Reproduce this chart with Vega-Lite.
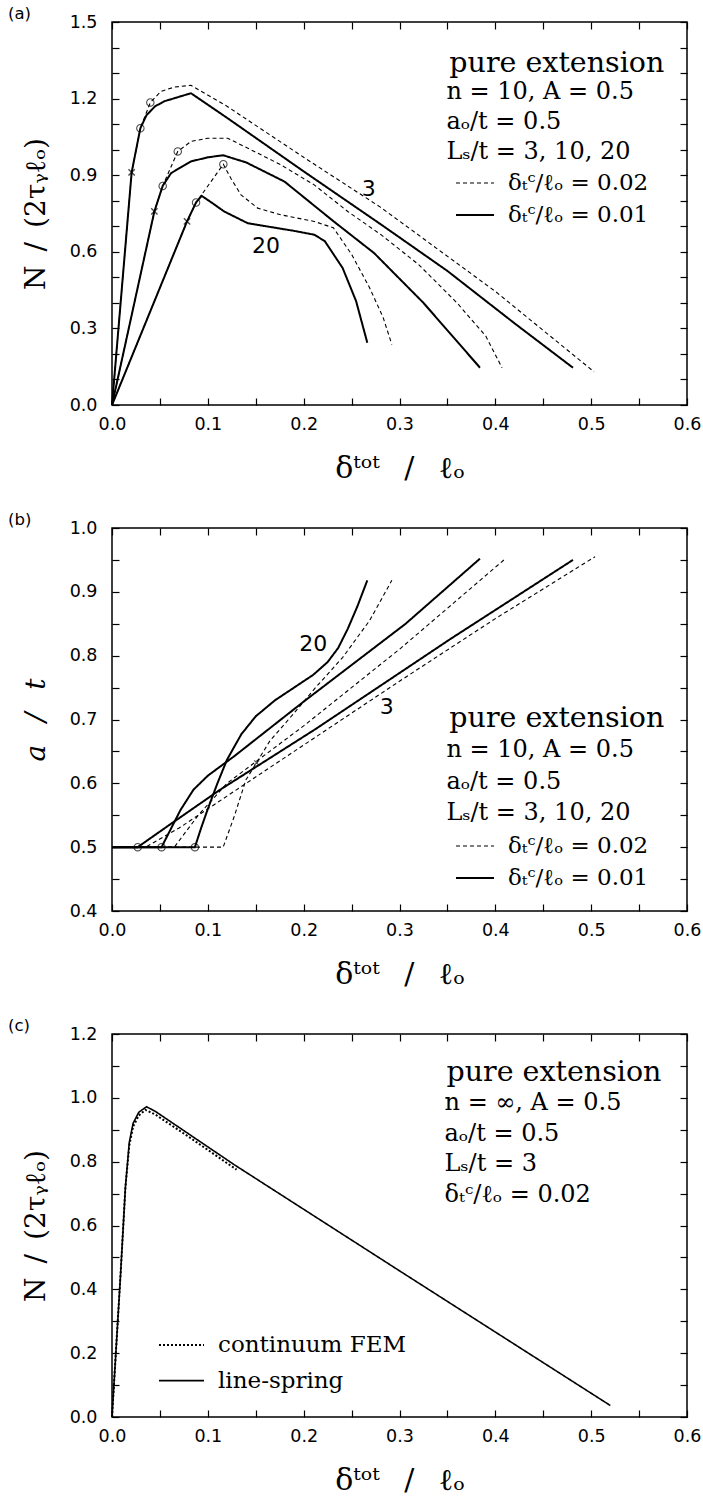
{
  "$schema": "https://vega.github.io/schema/vega-lite/v6.json",
  "background": "white",
  "padding": {"left": 7, "top": 4, "right": 4, "bottom": 0},
  "spacing": 26,
  "config": {
    "view": {"stroke": "black", "strokeWidth": 1.5},
    "font": "DejaVu Sans",
    "axis": {"grid": false, "domain": false, "tickColor": "black", "tickSize": -7, "tickWidth": 1.2, "labelFont": "DejaVu Sans", "labelFontSize": 17.5, "labelColor": "black", "labelOverlap": false, "labelFlush": false, "titleFont": "DejaVu Serif", "titleFontWeight": "normal", "titleColor": "black"},
    "axisX": {"labelPadding": 17, "titleFontSize": 30},
    "axisY": {"labelPadding": 22, "titleFontSize": 28},
    "legend": {"orient": "none", "title": null, "padding": 0, "labelFont": "DejaVu Serif", "labelFontSize": 23, "labelColor": "black", "labelLimit": 400, "symbolType": "stroke", "symbolStrokeColor": "black", "clipHeight": 22, "labelOffset": 13},
    "title": {"anchor": "start", "frame": "group", "font": "DejaVu Sans", "fontSize": 16.5, "fontWeight": "normal", "color": "black", "offset": -9}
  },
  "resolve": {"scale": {"strokeDash": "independent", "strokeWidth": "independent"}, "legend": {"strokeDash": "independent", "strokeWidth": "independent"}},
  "datasets": {
    "curves": [
      {"p": "a", "curve": "3s", "t": "δₜᶜ/ℓₒ = 0.01", "x": 0, "y": 0},
      {"p": "a", "curve": "3s", "t": "δₜᶜ/ℓₒ = 0.01", "x": 0.0205, "y": 0.911},
      {"p": "a", "curve": "3s", "t": "δₜᶜ/ℓₒ = 0.01", "x": 0.0296, "y": 1.084},
      {"p": "a", "curve": "3s", "t": "δₜᶜ/ℓₒ = 0.01", "x": 0.036, "y": 1.135},
      {"p": "a", "curve": "3s", "t": "δₜᶜ/ℓₒ = 0.01", "x": 0.045, "y": 1.17},
      {"p": "a", "curve": "3s", "t": "δₜᶜ/ℓₒ = 0.01", "x": 0.055, "y": 1.19},
      {"p": "a", "curve": "3s", "t": "δₜᶜ/ℓₒ = 0.01", "x": 0.07, "y": 1.207},
      {"p": "a", "curve": "3s", "t": "δₜᶜ/ℓₒ = 0.01", "x": 0.0824, "y": 1.221},
      {"p": "a", "curve": "3s", "t": "δₜᶜ/ℓₒ = 0.01", "x": 0.1207, "y": 1.123},
      {"p": "a", "curve": "3s", "t": "δₜᶜ/ℓₒ = 0.01", "x": 0.2, "y": 0.915},
      {"p": "a", "curve": "3s", "t": "δₜᶜ/ℓₒ = 0.01", "x": 0.2807, "y": 0.707},
      {"p": "a", "curve": "3s", "t": "δₜᶜ/ℓₒ = 0.01", "x": 0.35, "y": 0.525},
      {"p": "a", "curve": "3s", "t": "δₜᶜ/ℓₒ = 0.01", "x": 0.42, "y": 0.32},
      {"p": "a", "curve": "3s", "t": "δₜᶜ/ℓₒ = 0.01", "x": 0.481, "y": 0.146},
      {"p": "a", "curve": "3d", "t": "δₜᶜ/ℓₒ = 0.02", "x": 0, "y": 0},
      {"p": "a", "curve": "3d", "t": "δₜᶜ/ℓₒ = 0.02", "x": 0.0205, "y": 0.911},
      {"p": "a", "curve": "3d", "t": "δₜᶜ/ℓₒ = 0.02", "x": 0.0296, "y": 1.084},
      {"p": "a", "curve": "3d", "t": "δₜᶜ/ℓₒ = 0.02", "x": 0.04, "y": 1.185},
      {"p": "a", "curve": "3d", "t": "δₜᶜ/ℓₒ = 0.02", "x": 0.051, "y": 1.228},
      {"p": "a", "curve": "3d", "t": "δₜᶜ/ℓₒ = 0.02", "x": 0.065, "y": 1.245},
      {"p": "a", "curve": "3d", "t": "δₜᶜ/ℓₒ = 0.02", "x": 0.0824, "y": 1.252},
      {"p": "a", "curve": "3d", "t": "δₜᶜ/ℓₒ = 0.02", "x": 0.12, "y": 1.17},
      {"p": "a", "curve": "3d", "t": "δₜᶜ/ℓₒ = 0.02", "x": 0.2, "y": 0.97},
      {"p": "a", "curve": "3d", "t": "δₜᶜ/ℓₒ = 0.02", "x": 0.28, "y": 0.775},
      {"p": "a", "curve": "3d", "t": "δₜᶜ/ℓₒ = 0.02", "x": 0.4, "y": 0.445},
      {"p": "a", "curve": "3d", "t": "δₜᶜ/ℓₒ = 0.02", "x": 0.503, "y": 0.13},
      {"p": "a", "curve": "10s", "t": "δₜᶜ/ℓₒ = 0.01", "x": 0, "y": 0},
      {"p": "a", "curve": "10s", "t": "δₜᶜ/ℓₒ = 0.01", "x": 0.0442, "y": 0.758},
      {"p": "a", "curve": "10s", "t": "δₜᶜ/ℓₒ = 0.01", "x": 0.0529, "y": 0.858},
      {"p": "a", "curve": "10s", "t": "δₜᶜ/ℓₒ = 0.01", "x": 0.0616, "y": 0.908},
      {"p": "a", "curve": "10s", "t": "δₜᶜ/ℓₒ = 0.01", "x": 0.0824, "y": 0.954},
      {"p": "a", "curve": "10s", "t": "δₜᶜ/ℓₒ = 0.01", "x": 0.1, "y": 0.97},
      {"p": "a", "curve": "10s", "t": "δₜᶜ/ℓₒ = 0.01", "x": 0.116, "y": 0.978},
      {"p": "a", "curve": "10s", "t": "δₜᶜ/ℓₒ = 0.01", "x": 0.14, "y": 0.95},
      {"p": "a", "curve": "10s", "t": "δₜᶜ/ℓₒ = 0.01", "x": 0.18, "y": 0.875},
      {"p": "a", "curve": "10s", "t": "δₜᶜ/ℓₒ = 0.01", "x": 0.231, "y": 0.72},
      {"p": "a", "curve": "10s", "t": "δₜᶜ/ℓₒ = 0.01", "x": 0.2735, "y": 0.595},
      {"p": "a", "curve": "10s", "t": "δₜᶜ/ℓₒ = 0.01", "x": 0.325, "y": 0.4},
      {"p": "a", "curve": "10s", "t": "δₜᶜ/ℓₒ = 0.01", "x": 0.384, "y": 0.146},
      {"p": "a", "curve": "10d", "t": "δₜᶜ/ℓₒ = 0.02", "x": 0, "y": 0},
      {"p": "a", "curve": "10d", "t": "δₜᶜ/ℓₒ = 0.02", "x": 0.0442, "y": 0.758},
      {"p": "a", "curve": "10d", "t": "δₜᶜ/ℓₒ = 0.02", "x": 0.0529, "y": 0.858},
      {"p": "a", "curve": "10d", "t": "δₜᶜ/ℓₒ = 0.02", "x": 0.0686, "y": 0.993},
      {"p": "a", "curve": "10d", "t": "δₜᶜ/ℓₒ = 0.02", "x": 0.0824, "y": 1.032},
      {"p": "a", "curve": "10d", "t": "δₜᶜ/ℓₒ = 0.02", "x": 0.1, "y": 1.045},
      {"p": "a", "curve": "10d", "t": "δₜᶜ/ℓₒ = 0.02", "x": 0.1207, "y": 1.045},
      {"p": "a", "curve": "10d", "t": "δₜᶜ/ℓₒ = 0.02", "x": 0.1485, "y": 0.993},
      {"p": "a", "curve": "10d", "t": "δₜᶜ/ℓₒ = 0.02", "x": 0.176, "y": 0.941},
      {"p": "a", "curve": "10d", "t": "δₜᶜ/ℓₒ = 0.02", "x": 0.211, "y": 0.862},
      {"p": "a", "curve": "10d", "t": "δₜᶜ/ℓₒ = 0.02", "x": 0.246, "y": 0.758},
      {"p": "a", "curve": "10d", "t": "δₜᶜ/ℓₒ = 0.02", "x": 0.2807, "y": 0.667},
      {"p": "a", "curve": "10d", "t": "δₜᶜ/ℓₒ = 0.02", "x": 0.32, "y": 0.55},
      {"p": "a", "curve": "10d", "t": "δₜᶜ/ℓₒ = 0.02", "x": 0.36, "y": 0.4},
      {"p": "a", "curve": "10d", "t": "δₜᶜ/ℓₒ = 0.02", "x": 0.39, "y": 0.27},
      {"p": "a", "curve": "10d", "t": "δₜᶜ/ℓₒ = 0.02", "x": 0.407, "y": 0.146},
      {"p": "a", "curve": "20s", "t": "δₜᶜ/ℓₒ = 0.01", "x": 0, "y": 0},
      {"p": "a", "curve": "20s", "t": "δₜᶜ/ℓₒ = 0.01", "x": 0.0783, "y": 0.719},
      {"p": "a", "curve": "20s", "t": "δₜᶜ/ℓₒ = 0.01", "x": 0.0877, "y": 0.793},
      {"p": "a", "curve": "20s", "t": "δₜᶜ/ℓₒ = 0.01", "x": 0.0936, "y": 0.819},
      {"p": "a", "curve": "20s", "t": "δₜᶜ/ℓₒ = 0.01", "x": 0.105, "y": 0.79},
      {"p": "a", "curve": "20s", "t": "δₜᶜ/ℓₒ = 0.01", "x": 0.117, "y": 0.758},
      {"p": "a", "curve": "20s", "t": "δₜᶜ/ℓₒ = 0.01", "x": 0.1416, "y": 0.712},
      {"p": "a", "curve": "20s", "t": "δₜᶜ/ℓₒ = 0.01", "x": 0.1624, "y": 0.699},
      {"p": "a", "curve": "20s", "t": "δₜᶜ/ℓₒ = 0.01", "x": 0.19, "y": 0.682},
      {"p": "a", "curve": "20s", "t": "δₜᶜ/ℓₒ = 0.01", "x": 0.211, "y": 0.667},
      {"p": "a", "curve": "20s", "t": "δₜᶜ/ℓₒ = 0.01", "x": 0.222, "y": 0.642},
      {"p": "a", "curve": "20s", "t": "δₜᶜ/ℓₒ = 0.01", "x": 0.2406, "y": 0.537},
      {"p": "a", "curve": "20s", "t": "δₜᶜ/ℓₒ = 0.01", "x": 0.2547, "y": 0.407},
      {"p": "a", "curve": "20s", "t": "δₜᶜ/ℓₒ = 0.01", "x": 0.2664, "y": 0.244},
      {"p": "a", "curve": "20d", "t": "δₜᶜ/ℓₒ = 0.02", "x": 0, "y": 0},
      {"p": "a", "curve": "20d", "t": "δₜᶜ/ℓₒ = 0.02", "x": 0.0783, "y": 0.719},
      {"p": "a", "curve": "20d", "t": "δₜᶜ/ℓₒ = 0.02", "x": 0.0877, "y": 0.793},
      {"p": "a", "curve": "20d", "t": "δₜᶜ/ℓₒ = 0.02", "x": 0.1162, "y": 0.943},
      {"p": "a", "curve": "20d", "t": "δₜᶜ/ℓₒ = 0.02", "x": 0.124, "y": 0.888},
      {"p": "a", "curve": "20d", "t": "δₜᶜ/ℓₒ = 0.02", "x": 0.1346, "y": 0.823},
      {"p": "a", "curve": "20d", "t": "δₜᶜ/ℓₒ = 0.02", "x": 0.152, "y": 0.771},
      {"p": "a", "curve": "20d", "t": "δₜᶜ/ℓₒ = 0.02", "x": 0.176, "y": 0.745},
      {"p": "a", "curve": "20d", "t": "δₜᶜ/ℓₒ = 0.02", "x": 0.211, "y": 0.719},
      {"p": "a", "curve": "20d", "t": "δₜᶜ/ℓₒ = 0.02", "x": 0.231, "y": 0.694},
      {"p": "a", "curve": "20d", "t": "δₜᶜ/ℓₒ = 0.02", "x": 0.25, "y": 0.59},
      {"p": "a", "curve": "20d", "t": "δₜᶜ/ℓₒ = 0.02", "x": 0.2688, "y": 0.459},
      {"p": "a", "curve": "20d", "t": "δₜᶜ/ℓₒ = 0.02", "x": 0.283, "y": 0.342},
      {"p": "a", "curve": "20d", "t": "δₜᶜ/ℓₒ = 0.02", "x": 0.292, "y": 0.237},

      {"p": "b", "curve": "3s", "t": "δₜᶜ/ℓₒ = 0.01", "x": 0, "y": 0.5},
      {"p": "b", "curve": "3s", "t": "δₜᶜ/ℓₒ = 0.01", "x": 0.0268, "y": 0.5},
      {"p": "b", "curve": "3s", "t": "δₜᶜ/ℓₒ = 0.01", "x": 0.06, "y": 0.535},
      {"p": "b", "curve": "3s", "t": "δₜᶜ/ℓₒ = 0.01", "x": 0.1128, "y": 0.59},
      {"p": "b", "curve": "3s", "t": "δₜᶜ/ℓₒ = 0.01", "x": 0.2124, "y": 0.685},
      {"p": "b", "curve": "3s", "t": "δₜᶜ/ℓₒ = 0.01", "x": 0.353, "y": 0.826},
      {"p": "b", "curve": "3s", "t": "δₜᶜ/ℓₒ = 0.01", "x": 0.481, "y": 0.95},
      {"p": "b", "curve": "3d", "t": "δₜᶜ/ℓₒ = 0.02", "x": 0, "y": 0.5},
      {"p": "b", "curve": "3d", "t": "δₜᶜ/ℓₒ = 0.02", "x": 0.035, "y": 0.5},
      {"p": "b", "curve": "3d", "t": "δₜᶜ/ℓₒ = 0.02", "x": 0.07, "y": 0.53},
      {"p": "b", "curve": "3d", "t": "δₜᶜ/ℓₒ = 0.02", "x": 0.12, "y": 0.58},
      {"p": "b", "curve": "3d", "t": "δₜᶜ/ℓₒ = 0.02", "x": 0.2, "y": 0.66},
      {"p": "b", "curve": "3d", "t": "δₜᶜ/ℓₒ = 0.02", "x": 0.3, "y": 0.76},
      {"p": "b", "curve": "3d", "t": "δₜᶜ/ℓₒ = 0.02", "x": 0.4, "y": 0.858},
      {"p": "b", "curve": "3d", "t": "δₜᶜ/ℓₒ = 0.02", "x": 0.504, "y": 0.955},
      {"p": "b", "curve": "10s", "t": "δₜᶜ/ℓₒ = 0.01", "x": 0, "y": 0.5},
      {"p": "b", "curve": "10s", "t": "δₜᶜ/ℓₒ = 0.01", "x": 0.0517, "y": 0.5},
      {"p": "b", "curve": "10s", "t": "δₜᶜ/ℓₒ = 0.01", "x": 0.0714, "y": 0.558},
      {"p": "b", "curve": "10s", "t": "δₜᶜ/ℓₒ = 0.01", "x": 0.085, "y": 0.59},
      {"p": "b", "curve": "10s", "t": "δₜᶜ/ℓₒ = 0.01", "x": 0.1, "y": 0.612},
      {"p": "b", "curve": "10s", "t": "δₜᶜ/ℓₒ = 0.01", "x": 0.128, "y": 0.643},
      {"p": "b", "curve": "10s", "t": "δₜᶜ/ℓₒ = 0.01", "x": 0.2, "y": 0.728},
      {"p": "b", "curve": "10s", "t": "δₜᶜ/ℓₒ = 0.01", "x": 0.3064, "y": 0.85},
      {"p": "b", "curve": "10s", "t": "δₜᶜ/ℓₒ = 0.01", "x": 0.384, "y": 0.952},
      {"p": "b", "curve": "10d", "t": "δₜᶜ/ℓₒ = 0.02", "x": 0, "y": 0.5},
      {"p": "b", "curve": "10d", "t": "δₜᶜ/ℓₒ = 0.02", "x": 0.065, "y": 0.5},
      {"p": "b", "curve": "10d", "t": "δₜᶜ/ℓₒ = 0.02", "x": 0.09, "y": 0.55},
      {"p": "b", "curve": "10d", "t": "δₜᶜ/ℓₒ = 0.02", "x": 0.12, "y": 0.6},
      {"p": "b", "curve": "10d", "t": "δₜᶜ/ℓₒ = 0.02", "x": 0.16, "y": 0.645},
      {"p": "b", "curve": "10d", "t": "δₜᶜ/ℓₒ = 0.02", "x": 0.2, "y": 0.69},
      {"p": "b", "curve": "10d", "t": "δₜᶜ/ℓₒ = 0.02", "x": 0.3, "y": 0.81},
      {"p": "b", "curve": "10d", "t": "δₜᶜ/ℓₒ = 0.02", "x": 0.409, "y": 0.95},
      {"p": "b", "curve": "20s", "t": "δₜᶜ/ℓₒ = 0.01", "x": 0, "y": 0.5},
      {"p": "b", "curve": "20s", "t": "δₜᶜ/ℓₒ = 0.01", "x": 0.0865, "y": 0.5},
      {"p": "b", "curve": "20s", "t": "δₜᶜ/ℓₒ = 0.01", "x": 0.093, "y": 0.53},
      {"p": "b", "curve": "20s", "t": "δₜᶜ/ℓₒ = 0.01", "x": 0.1, "y": 0.56},
      {"p": "b", "curve": "20s", "t": "δₜᶜ/ℓₒ = 0.01", "x": 0.11, "y": 0.6},
      {"p": "b", "curve": "20s", "t": "δₜᶜ/ℓₒ = 0.01", "x": 0.12, "y": 0.637},
      {"p": "b", "curve": "20s", "t": "δₜᶜ/ℓₒ = 0.01", "x": 0.135, "y": 0.677},
      {"p": "b", "curve": "20s", "t": "δₜᶜ/ℓₒ = 0.01", "x": 0.15, "y": 0.705},
      {"p": "b", "curve": "20s", "t": "δₜᶜ/ℓₒ = 0.01", "x": 0.17, "y": 0.73},
      {"p": "b", "curve": "20s", "t": "δₜᶜ/ℓₒ = 0.01", "x": 0.19, "y": 0.75},
      {"p": "b", "curve": "20s", "t": "δₜᶜ/ℓₒ = 0.01", "x": 0.21, "y": 0.77},
      {"p": "b", "curve": "20s", "t": "δₜᶜ/ℓₒ = 0.01", "x": 0.225, "y": 0.79},
      {"p": "b", "curve": "20s", "t": "δₜᶜ/ℓₒ = 0.01", "x": 0.236, "y": 0.812},
      {"p": "b", "curve": "20s", "t": "δₜᶜ/ℓₒ = 0.01", "x": 0.246, "y": 0.842},
      {"p": "b", "curve": "20s", "t": "δₜᶜ/ℓₒ = 0.01", "x": 0.256, "y": 0.877},
      {"p": "b", "curve": "20s", "t": "δₜᶜ/ℓₒ = 0.01", "x": 0.2664, "y": 0.918},
      {"p": "b", "curve": "20d", "t": "δₜᶜ/ℓₒ = 0.02", "x": 0, "y": 0.5},
      {"p": "b", "curve": "20d", "t": "δₜᶜ/ℓₒ = 0.02", "x": 0.116, "y": 0.5},
      {"p": "b", "curve": "20d", "t": "δₜᶜ/ℓₒ = 0.02", "x": 0.128, "y": 0.55},
      {"p": "b", "curve": "20d", "t": "δₜᶜ/ℓₒ = 0.02", "x": 0.1396, "y": 0.605},
      {"p": "b", "curve": "20d", "t": "δₜᶜ/ℓₒ = 0.02", "x": 0.165, "y": 0.667},
      {"p": "b", "curve": "20d", "t": "δₜᶜ/ℓₒ = 0.02", "x": 0.19, "y": 0.71},
      {"p": "b", "curve": "20d", "t": "δₜᶜ/ℓₒ = 0.02", "x": 0.2124, "y": 0.75},
      {"p": "b", "curve": "20d", "t": "δₜᶜ/ℓₒ = 0.02", "x": 0.2406, "y": 0.797},
      {"p": "b", "curve": "20d", "t": "δₜᶜ/ℓₒ = 0.02", "x": 0.2688, "y": 0.855},
      {"p": "b", "curve": "20d", "t": "δₜᶜ/ℓₒ = 0.02", "x": 0.292, "y": 0.918},

      {"p": "c", "curve": "ls", "t": "line-spring", "x": 0, "y": 0},
      {"p": "c", "curve": "ls", "t": "line-spring", "x": 0.004, "y": 0.2},
      {"p": "c", "curve": "ls", "t": "line-spring", "x": 0.009, "y": 0.45},
      {"p": "c", "curve": "ls", "t": "line-spring", "x": 0.014, "y": 0.72},
      {"p": "c", "curve": "ls", "t": "line-spring", "x": 0.018, "y": 0.86},
      {"p": "c", "curve": "ls", "t": "line-spring", "x": 0.022, "y": 0.92},
      {"p": "c", "curve": "ls", "t": "line-spring", "x": 0.028, "y": 0.955},
      {"p": "c", "curve": "ls", "t": "line-spring", "x": 0.036, "y": 0.972},
      {"p": "c", "curve": "ls", "t": "line-spring", "x": 0.045, "y": 0.958},
      {"p": "c", "curve": "ls", "t": "line-spring", "x": 0.1278, "y": 0.79},
      {"p": "c", "curve": "ls", "t": "line-spring", "x": 0.3, "y": 0.458},
      {"p": "c", "curve": "ls", "t": "line-spring", "x": 0.52, "y": 0.036},
      {"p": "c", "curve": "fem", "t": "continuum FEM", "x": 0, "y": 0},
      {"p": "c", "curve": "fem", "t": "continuum FEM", "x": 0.004, "y": 0.2},
      {"p": "c", "curve": "fem", "t": "continuum FEM", "x": 0.009, "y": 0.45},
      {"p": "c", "curve": "fem", "t": "continuum FEM", "x": 0.014, "y": 0.72},
      {"p": "c", "curve": "fem", "t": "continuum FEM", "x": 0.018, "y": 0.85},
      {"p": "c", "curve": "fem", "t": "continuum FEM", "x": 0.022, "y": 0.91},
      {"p": "c", "curve": "fem", "t": "continuum FEM", "x": 0.028, "y": 0.945},
      {"p": "c", "curve": "fem", "t": "continuum FEM", "x": 0.035, "y": 0.962},
      {"p": "c", "curve": "fem", "t": "continuum FEM", "x": 0.045, "y": 0.948},
      {"p": "c", "curve": "fem", "t": "continuum FEM", "x": 0.08, "y": 0.878},
      {"p": "c", "curve": "fem", "t": "continuum FEM", "x": 0.13, "y": 0.775}
    ],
    "markers": [
      {"p": "a", "m": "x", "x": 0.0205, "y": 0.911},
      {"p": "a", "m": "x", "x": 0.0442, "y": 0.758},
      {"p": "a", "m": "x", "x": 0.0783, "y": 0.719},
      {"p": "a", "m": "o", "x": 0.0296, "y": 1.084},
      {"p": "a", "m": "o", "x": 0.04, "y": 1.185},
      {"p": "a", "m": "o", "x": 0.0529, "y": 0.858},
      {"p": "a", "m": "o", "x": 0.0686, "y": 0.993},
      {"p": "a", "m": "o", "x": 0.0877, "y": 0.793},
      {"p": "a", "m": "o", "x": 0.1162, "y": 0.943},
      {"p": "b", "m": "o", "x": 0.0268, "y": 0.5},
      {"p": "b", "m": "o", "x": 0.0517, "y": 0.5},
      {"p": "b", "m": "o", "x": 0.0865, "y": 0.5},
      {"p": "b", "m": "x", "x": 0.151, "y": 0.632}
    ],
    "notes": [
      {"p": "a", "k": "head", "x": 0.352, "y": 1.339, "text": "pure extension"},
      {"p": "a", "k": "line", "x": 0.349, "y": 1.225, "text": "n = 10, A = 0.5"},
      {"p": "a", "k": "line", "x": 0.349, "y": 1.11, "text": "aₒ/t = 0.5"},
      {"p": "a", "k": "line", "x": 0.349, "y": 0.99, "text": "Lₛ/t = 3, 10, 20"},
      {"p": "b", "k": "head", "x": 0.352, "y": 0.7016, "text": "pure extension"},
      {"p": "b", "k": "line", "x": 0.349, "y": 0.652, "text": "n = 10, A = 0.5"},
      {"p": "b", "k": "line", "x": 0.349, "y": 0.602, "text": "aₒ/t = 0.5"},
      {"p": "b", "k": "line", "x": 0.349, "y": 0.553, "text": "Lₛ/t = 3, 10, 20"},
      {"p": "c", "k": "head", "x": 0.349, "y": 1.08, "text": "pure extension"},
      {"p": "c", "k": "line", "x": 0.347, "y": 0.984, "text": "n = ∞, A = 0.5"},
      {"p": "c", "k": "line", "x": 0.347, "y": 0.886, "text": "aₒ/t = 0.5"},
      {"p": "c", "k": "line", "x": 0.347, "y": 0.792, "text": "Lₛ/t = 3"},
      {"p": "c", "k": "line", "x": 0.347, "y": 0.696, "text": "δₜᶜ/ℓₒ = 0.02"}
    ],
    "curveLabels": [
      {"p": "a", "x": 0.268, "y": 0.844, "text": "3"},
      {"p": "a", "x": 0.1607, "y": 0.622, "text": "20"},
      {"p": "b", "x": 0.21, "y": 0.818, "text": "20"},
      {"p": "b", "x": 0.2866, "y": 0.719, "text": "3"}
    ]
  },
  "vconcat": [
    {
      "width": 575, "height": 383,
      "title": {"text": "(a)", "dx": -104},
      "resolve": {"axis": {"x": "independent", "y": "independent"}},
      "layer": [
        {
          "data": {"name": "curves"},
          "transform": [{"filter": "datum.p == 'a'"}],
          "mark": {"type": "line", "color": "black", "strokeCap": "butt"},
          "encoding": {
            "x": {"field": "x", "type": "quantitative", "scale": {"domain": [0, 0.6], "nice": false, "zero": false},
                  "axis": {"orient": "bottom", "values": [0, 0.05, 0.1, 0.15, 0.2, 0.25, 0.3, 0.35, 0.4, 0.45, 0.5, 0.55, 0.6], "labelExpr": "round(datum.value*100) % 10 == 0 ? format(datum.value, '.1f') : ''", "title": "δᵗᵒᵗ \u2002/ \u2002ℓₒ", "titleX": 287.5, "titleY": 72, "titleBaseline": "alphabetic"}},
            "y": {"field": "y", "type": "quantitative", "scale": {"domain": [0, 1.5], "nice": false, "zero": false},
                  "axis": {"orient": "left", "values": [0, 0.1, 0.2, 0.3, 0.4, 0.5, 0.6, 0.7, 0.8, 0.9, 1.0, 1.1, 1.2, 1.3, 1.4, 1.5], "labelExpr": "round(datum.value*10) % 3 == 0 ? format(datum.value, '.1f') : ''", "title": "N\u2002/\u2002(2τᵧℓₒ)", "titleX": -76, "titleY": 191.5, "titleBaseline": "middle", "titleAngle": -90}},
            "detail": {"field": "curve"},
            "strokeDash": {"field": "t", "type": "nominal", "scale": {"domain": ["δₜᶜ/ℓₒ = 0.02", "δₜᶜ/ℓₒ = 0.01"], "range": [[4, 3], [1, 0]]},
                           "legend": {"legendX": 343, "legendY": 150, "symbolSize": 1444, "rowPadding": 9}},
            "strokeWidth": {"field": "t", "type": "nominal", "scale": {"domain": ["δₜᶜ/ℓₒ = 0.02", "δₜᶜ/ℓₒ = 0.01"], "range": [1.1, 2]},
                            "legend": {"legendX": 343, "legendY": 150, "symbolSize": 1444, "rowPadding": 9}}
          }
        },
        {
          "data": {"name": "markers"},
          "transform": [{"filter": "datum.p == 'a' && datum.m == 'o'"}],
          "mark": {"type": "point", "shape": "circle", "filled": false, "color": "black", "strokeWidth": 1.1, "size": 55},
          "encoding": {
            "x": {"field": "x", "type": "quantitative", "axis": null},
            "y": {"field": "y", "type": "quantitative", "axis": null}
          }
        },
        {
          "data": {"name": "markers"},
          "transform": [{"filter": "datum.p == 'a' && datum.m == 'x'"}],
          "mark": {"type": "point", "shape": "M-1,-1L1,1M-1,1L1,-1", "filled": false, "color": "black", "strokeWidth": 1.4, "size": 40},
          "encoding": {
            "x": {"field": "x", "type": "quantitative", "axis": null},
            "y": {"field": "y", "type": "quantitative", "axis": null}
          }
        },
        {
          "data": {"name": "curveLabels"},
          "transform": [{"filter": "datum.p == 'a'"}],
          "mark": {"type": "text", "font": "DejaVu Sans", "fontSize": 22, "align": "center", "baseline": "middle", "color": "black"},
          "encoding": {
            "x": {"field": "x", "type": "quantitative", "axis": null},
            "y": {"field": "y", "type": "quantitative", "axis": null},
            "text": {"field": "text"}
          }
        },
        {
          "data": {"name": "notes"},
          "transform": [{"filter": "datum.p == 'a'"}],
          "mark": {"type": "text", "font": "DejaVu Serif", "align": "left", "baseline": "middle", "color": "black"},
          "encoding": {
            "x": {"field": "x", "type": "quantitative",
                  "axis": {"orient": "top", "values": [0, 0.05, 0.1, 0.15, 0.2, 0.25, 0.3, 0.35, 0.4, 0.45, 0.5, 0.55, 0.6], "labels": false, "title": null}},
            "y": {"field": "y", "type": "quantitative",
                  "axis": {"orient": "right", "values": [0, 0.1, 0.2, 0.3, 0.4, 0.5, 0.6, 0.7, 0.8, 0.9, 1.0, 1.1, 1.2, 1.3, 1.4, 1.5], "labels": false, "title": null}},
            "text": {"field": "text"},
            "size": {"field": "k", "type": "nominal", "scale": {"domain": ["head", "line"], "range": [28.5, 24]}, "legend": null}
          }
        }
      ]
    },
    {
      "width": 575, "height": 383,
      "title": {"text": "(b)", "dx": -104},
      "resolve": {"axis": {"x": "independent", "y": "independent"}},
      "layer": [
        {
          "data": {"name": "curves"},
          "transform": [{"filter": "datum.p == 'b'"}],
          "mark": {"type": "line", "color": "black", "strokeCap": "butt"},
          "encoding": {
            "x": {"field": "x", "type": "quantitative", "scale": {"domain": [0, 0.6], "nice": false, "zero": false},
                  "axis": {"orient": "bottom", "values": [0, 0.05, 0.1, 0.15, 0.2, 0.25, 0.3, 0.35, 0.4, 0.45, 0.5, 0.55, 0.6], "labelExpr": "round(datum.value*100) % 10 == 0 ? format(datum.value, '.1f') : ''", "title": "δᵗᵒᵗ \u2002/ \u2002ℓₒ", "titleX": 287.5, "titleY": 72, "titleBaseline": "alphabetic"}},
            "y": {"field": "y", "type": "quantitative", "scale": {"domain": [0.4, 1.0], "nice": false, "zero": false},
                  "axis": {"orient": "left", "values": [0.4, 0.45, 0.5, 0.55, 0.6, 0.65, 0.7, 0.75, 0.8, 0.85, 0.9, 0.95, 1.0], "labelExpr": "round(datum.value*100) % 10 == 0 ? format(datum.value, '.1f') : ''", "title": "a \u2002/ \u2002t", "titleFontStyle": "italic", "titleX": -76, "titleY": 191.5, "titleBaseline": "middle", "titleAngle": -90}},
            "detail": {"field": "curve"},
            "strokeDash": {"field": "t", "type": "nominal", "scale": {"domain": ["δₜᶜ/ℓₒ = 0.02", "δₜᶜ/ℓₒ = 0.01"], "range": [[4, 3], [1, 0]]},
                           "legend": {"legendX": 343, "legendY": 307, "symbolSize": 1444, "rowPadding": 9}},
            "strokeWidth": {"field": "t", "type": "nominal", "scale": {"domain": ["δₜᶜ/ℓₒ = 0.02", "δₜᶜ/ℓₒ = 0.01"], "range": [1.1, 2]},
                            "legend": {"legendX": 343, "legendY": 307, "symbolSize": 1444, "rowPadding": 9}}
          }
        },
        {
          "data": {"name": "markers"},
          "transform": [{"filter": "datum.p == 'b' && datum.m == 'o'"}],
          "mark": {"type": "point", "shape": "circle", "filled": false, "color": "black", "strokeWidth": 1.1, "size": 55},
          "encoding": {
            "x": {"field": "x", "type": "quantitative", "axis": null},
            "y": {"field": "y", "type": "quantitative", "axis": null}
          }
        },
        {
          "data": {"name": "markers"},
          "transform": [{"filter": "datum.p == 'b' && datum.m == 'x'"}],
          "mark": {"type": "point", "shape": "M-1,-1L1,1M-1,1L1,-1", "filled": false, "color": "black", "strokeWidth": 1.2, "size": 25},
          "encoding": {
            "x": {"field": "x", "type": "quantitative", "axis": null},
            "y": {"field": "y", "type": "quantitative", "axis": null}
          }
        },
        {
          "data": {"name": "curveLabels"},
          "transform": [{"filter": "datum.p == 'b'"}],
          "mark": {"type": "text", "font": "DejaVu Sans", "fontSize": 22, "align": "center", "baseline": "middle", "color": "black"},
          "encoding": {
            "x": {"field": "x", "type": "quantitative", "axis": null},
            "y": {"field": "y", "type": "quantitative", "axis": null},
            "text": {"field": "text"}
          }
        },
        {
          "data": {"name": "notes"},
          "transform": [{"filter": "datum.p == 'b'"}],
          "mark": {"type": "text", "font": "DejaVu Serif", "align": "left", "baseline": "middle", "color": "black"},
          "encoding": {
            "x": {"field": "x", "type": "quantitative",
                  "axis": {"orient": "top", "values": [0, 0.05, 0.1, 0.15, 0.2, 0.25, 0.3, 0.35, 0.4, 0.45, 0.5, 0.55, 0.6], "labels": false, "title": null}},
            "y": {"field": "y", "type": "quantitative",
                  "axis": {"orient": "right", "values": [0.4, 0.45, 0.5, 0.55, 0.6, 0.65, 0.7, 0.75, 0.8, 0.85, 0.9, 0.95, 1.0], "labels": false, "title": null}},
            "text": {"field": "text"},
            "size": {"field": "k", "type": "nominal", "scale": {"domain": ["head", "line"], "range": [28.5, 24]}, "legend": null}
          }
        }
      ]
    },
    {
      "width": 575, "height": 383,
      "title": {"text": "(c)", "dx": -104},
      "resolve": {"axis": {"x": "independent", "y": "independent"}},
      "layer": [
        {
          "data": {"name": "curves"},
          "transform": [{"filter": "datum.p == 'c'"}],
          "mark": {"type": "line", "color": "black", "strokeCap": "butt"},
          "encoding": {
            "x": {"field": "x", "type": "quantitative", "scale": {"domain": [0, 0.6], "nice": false, "zero": false},
                  "axis": {"orient": "bottom", "values": [0, 0.05, 0.1, 0.15, 0.2, 0.25, 0.3, 0.35, 0.4, 0.45, 0.5, 0.55, 0.6], "labelExpr": "round(datum.value*100) % 10 == 0 ? format(datum.value, '.1f') : ''", "title": "δᵗᵒᵗ \u2002/ \u2002ℓₒ", "titleX": 287.5, "titleY": 72, "titleBaseline": "alphabetic"}},
            "y": {"field": "y", "type": "quantitative", "scale": {"domain": [0, 1.2], "nice": false, "zero": false},
                  "axis": {"orient": "left", "values": [0, 0.1, 0.2, 0.3, 0.4, 0.5, 0.6, 0.7, 0.8, 0.9, 1.0, 1.1, 1.2], "labelExpr": "round(datum.value*10) % 2 == 0 ? format(datum.value, '.1f') : ''", "title": "N\u2002/\u2002(2τᵧℓₒ)", "titleX": -76, "titleY": 191.5, "titleBaseline": "middle", "titleAngle": -90}},
            "detail": {"field": "curve"},
            "strokeDash": {"field": "t", "type": "nominal", "scale": {"domain": ["continuum FEM", "line-spring"], "range": [[2, 2], [1, 0]]},
                           "legend": {"legendX": 46, "legendY": 300, "symbolSize": 2025, "rowPadding": 12.6}},
            "strokeWidth": {"field": "t", "type": "nominal", "scale": {"domain": ["continuum FEM", "line-spring"], "range": [2, 1.6]},
                            "legend": {"legendX": 46, "legendY": 300, "symbolSize": 2025, "rowPadding": 12.6}}
          }
        },
        {
          "data": {"name": "notes"},
          "transform": [{"filter": "datum.p == 'c'"}],
          "mark": {"type": "text", "font": "DejaVu Serif", "align": "left", "baseline": "middle", "color": "black"},
          "encoding": {
            "x": {"field": "x", "type": "quantitative",
                  "axis": {"orient": "top", "values": [0, 0.05, 0.1, 0.15, 0.2, 0.25, 0.3, 0.35, 0.4, 0.45, 0.5, 0.55, 0.6], "labels": false, "title": null}},
            "y": {"field": "y", "type": "quantitative",
                  "axis": {"orient": "right", "values": [0, 0.1, 0.2, 0.3, 0.4, 0.5, 0.6, 0.7, 0.8, 0.9, 1.0, 1.1, 1.2], "labels": false, "title": null}},
            "text": {"field": "text"},
            "size": {"field": "k", "type": "nominal", "scale": {"domain": ["head", "line"], "range": [28.5, 24]}, "legend": null}
          }
        }
      ]
    }
  ]
}
